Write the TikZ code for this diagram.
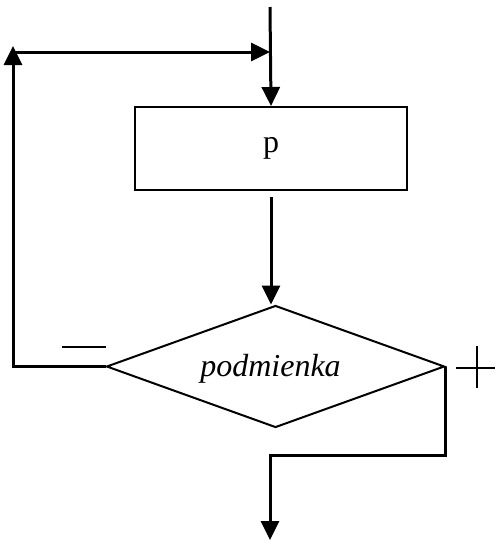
\documentclass[tikz,border=0pt]{standalone}
\usepackage{fontspec}
\setmainfont{Liberation Serif}
\usetikzlibrary{arrows.meta,shapes.geometric}
\begin{document}
\begin{tikzpicture}[x=1pt,y=-1pt,
  flow/.style={line width=3pt,-{Triangle[length=19pt,width=18pt]}},
  procbox/.style={draw,line width=2pt,rectangle,minimum width=272pt,minimum height=83pt,inner sep=0pt,font=\fontsize{32}{38}\selectfont},
  cond/.style={draw,line width=2pt,diamond,aspect=2.77,minimum width=338pt,minimum height=122pt,inner sep=0pt},
  condtext/.style={inner sep=0pt,font=\fontsize{32}{38}\selectfont\itshape},
  sign/.style={line width=1.8pt}]
\useasboundingbox (0,0) rectangle (496,542);

% blocks
\node[procbox] (box) at (271,148.5) {p};
\node[cond] (dia) at (275.5,366.5) {};
\node[condtext] (diatext) at ([xshift=-5pt,yshift=-2pt]dia.center) {podmienka};

% entry and loop-back junction
\coordinate (start) at (270,7);
\coordinate (join) at (270,52);
\coordinate (ltop) at (13,52);
\coordinate (lcorner) at (13,366.5);
\coordinate (rcorner) at (445,455);
\coordinate (stop) at (270,540);

\draw[flow] (start) -- (box.north);
\draw[flow] (ltop) -- (join);
\draw[flow] (box.south) ++(0,6) -- (box.south |- dia.north);

% false branch: back to the top
\draw[flow] (dia.west) -- (lcorner) -- ([yshift=6pt]ltop);

% true branch: exit
\draw[flow] (dia.east) -- (dia.east |- rcorner) -- (stop |- rcorner) -- (stop);

% branch signs
\coordinate (mL) at (62,347);
\coordinate (mR) at (106,347);
\draw[sign] (mL) -- (mR);
\coordinate (pC) at (477,368);
\draw[sign] ([xshift=-21pt]pC) -- ([xshift=18pt]pC);
\draw[sign] ([yshift=-20pt]pC) -- ([yshift=22pt]pC);
\end{tikzpicture}
\end{document}
